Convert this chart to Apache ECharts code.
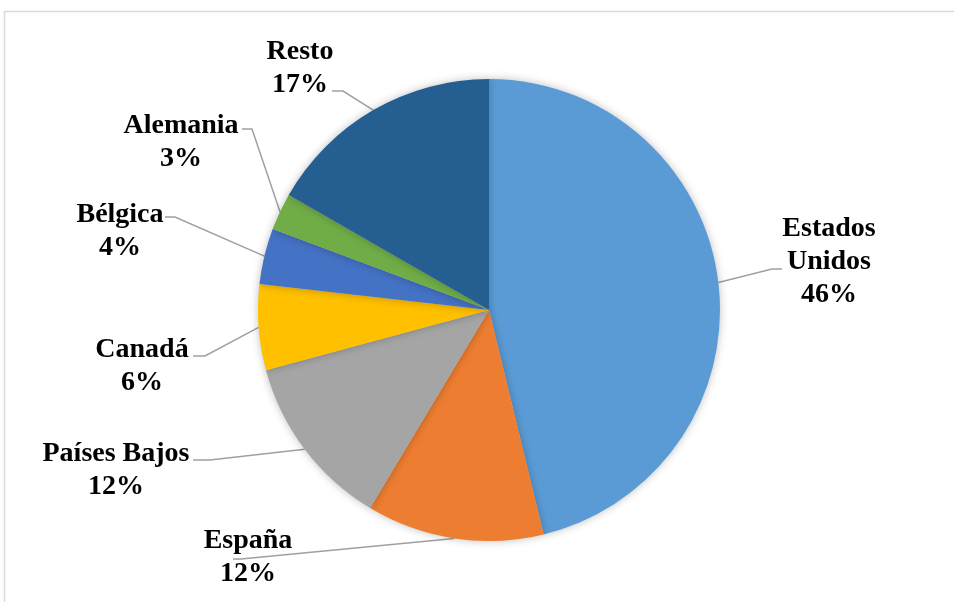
<!DOCTYPE html>
<html>
<head>
<meta charset="utf-8">
<script src="https://cdn.jsdelivr.net/npm/echarts@6/dist/echarts.min.js"></script>
<style>
  html,body{margin:0;padding:0;background:#fff;}
  #main{width:954px;height:602px;}
</style>
</head>
<body>
<div id="main"></div>
<script>
// categorias y valores (porcentaje)
var categories = ['Estados Unidos', 'España', 'Países Bajos', 'Canadá', 'Bélgica', 'Alemania', 'Resto'];
var values = [46.2, 12.4, 12.2, 6.0, 3.9, 2.6, 16.7];
var colors = ['#5b9bd5', '#ed7d31', '#a5a5a5', '#ffc000', '#4472c4', '#70ad47', '#255e91'];

// posicion de etiquetas: [centroX, centroY, finLineaX, finLineaY, codoX]
var labelPos = [
    [829, 262, 782, 269, 772],
    [248, 557, 233, 559, 241],
    [116, 470, 193, 460, 210],
    [142, 366, 193, 356, 205],
    [120, 231, 165, 217, 175],
    [181, 142, 242, 129, 252],
    [300, 68, 332, 91, 343]
];

var chart = echarts.init(document.getElementById('main'));

var option = {
    backgroundColor: '#fff',
    animation: false,
    graphic: [{
        type: 'rect',
        shape: {x: 4.5, y: 11.5, width: 1000, height: 1000},
        style: {fill: 'none', stroke: '#d9d9d9', lineWidth: 1.5},
        silent: true
    }],
    series: [{
        type: 'pie',
        center: [489, 310],
        radius: 231,
        startAngle: 90,
        clockwise: true,
        avoidLabelOverlap: false,
        data: categories.map(function(c, i){
            return {name: c, value: values[i], itemStyle: {color: colors[i]}};
        }),
        itemStyle: {
            borderWidth: 0,
            shadowBlur: 8,
            shadowColor: 'rgba(0,0,0,0.25)'
        },
        label: {
            show: true,
            position: 'outside',
            fontFamily: '"Liberation Serif", "DejaVu Serif", serif',
            fontWeight: 'bold',
            fontSize: 28,
            lineHeight: 33,
            color: '#000',
            align: 'center',
            formatter: function(p){
                var n = p.name == 'Estados Unidos' ? 'Estados\nUnidos' : p.name;
                return n + '\n' + Math.round(p.percent) + '%';
            }
        },
        labelLine: {
            show: true,
            lineStyle: {color: '#a0a0a0', width: 1.5}
        },
        labelLayout: function(params){
            var lp = labelPos[params.dataIndex];
            var start = params.labelLinePoints ? params.labelLinePoints[0] : [lp[4], lp[3]];
            return {
                x: lp[0],
                y: lp[1],
                align: 'center',
                verticalAlign: 'middle',
                labelLinePoints: [start, [lp[4], lp[3]], [lp[2], lp[3]]]
            };
        }
    }]
};

chart.setOption(option);
</script>
</body>
</html>
